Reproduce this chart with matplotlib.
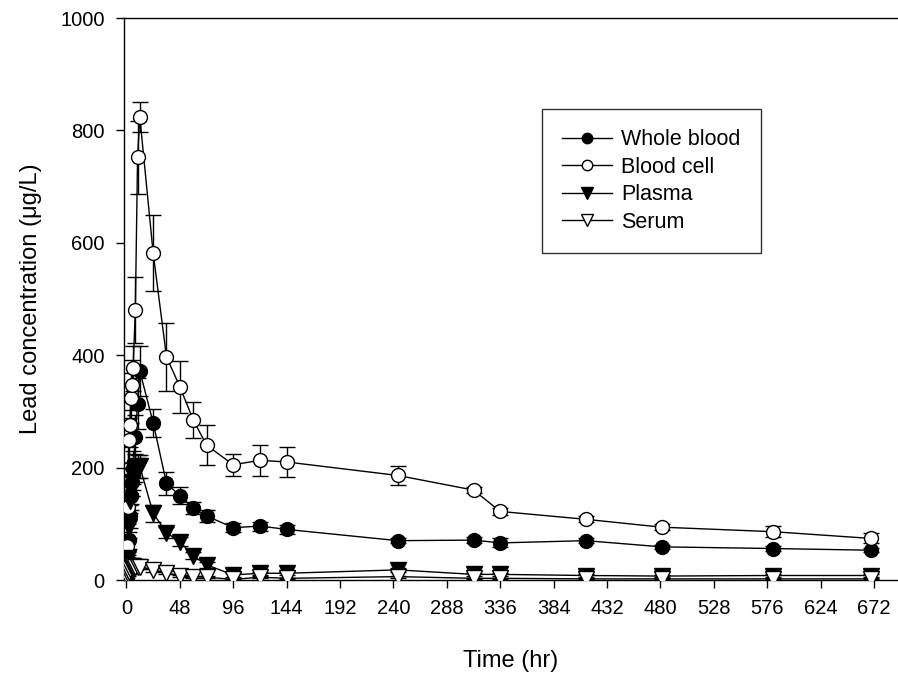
import matplotlib
matplotlib.use("Agg")
import matplotlib.pyplot as plt

plt.rcParams['font.family'] = ['Liberation Sans', 'DejaVu Sans']

# sampling times (hr)
time_hr = [0, 0.5, 1, 2, 3, 4, 5, 6, 8, 10, 12, 24, 36, 48, 60, 72,
           96, 120, 144, 244, 312, 336, 413, 481, 581, 669]

# lead concentration (ug/L), mean and SD
whole_blood = [5, 15, 35, 71, 113, 150, 175, 200, 254, 314, 372, 280, 172, 150, 128, 114,
               93, 96, 90, 70, 71, 66, 70, 59, 56, 53]
whole_blood_sd = [3, 5, 10, 15, 20, 25, 25, 30, 40, 45, 45, 25, 20, 15, 10, 10,
                  8, 8, 8, 5, 6, 8, 5, 4, 4, 4]

blood_cell = [10, 60, 130, 249, 276, 324, 347, 377, 481, 752, 824, 582, 397, 344, 285, 240,
              205, 213, 210, 186, 160, 122, 108, 94, 86, 74]
blood_cell_sd = [5, 15, 30, 40, 40, 45, 45, 40, 59, 65, 26, 68, 60, 46, 32, 36,
                 20, 28, 27, 17, 6, 6, 5, 5, 10, 9]

plasma = [2, 15, 40, 95, 140, 160, 175, 185, 199, 202, 202, 119, 84, 68, 43, 27,
          9, 12, 12, 18, 10, 10, 8, 7, 8, 8]
plasma_sd = [1, 5, 10, 20, 20, 25, 25, 25, 25, 20, 20, 15, 10, 8, 6, 5,
             3, 3, 3, 3, 3, 3, 2, 2, 2, 2]

serum = [1, 5, 10, 15, 20, 25, 25, 25, 24, 24, 24, 18, 13, 7, 6, 5,
         1, 5, 3, 6, 3, 3, 2, 2, 2, 2]
serum_sd = [1, 2, 3, 4, 5, 5, 5, 5, 5, 5, 5, 4, 3, 2, 2, 2,
            1, 2, 1, 2, 1, 1, 1, 1, 1, 1]

x_ticks = list(range(0, 673, 48))
y_ticks = [0, 200, 400, 600, 800, 1000]

W, H = 898, 677
fig = plt.figure(figsize=(W / 100, H / 100), dpi=100)
ax = fig.add_axes([124 / W, (H - 580) / H, (897 - 124) / W, (580 - 18) / H])

series = [
    ("Whole blood", whole_blood, whole_blood_sd, "o", "black"),
    ("Blood cell", blood_cell, blood_cell_sd, "o", "white"),
    ("Plasma", plasma, plasma_sd, "v", "black"),
    ("Serum", serum, serum_sd, "v", "white"),
]

handles = []
for name, vals, sd, mk, fc in series:
    size = 10 if mk == "o" else 11.5
    ax.errorbar(time_hr, vals, yerr=sd, fmt="none", ecolor="black",
                elinewidth=1.0, capsize=6, capthick=1.0, zorder=2)
    ax.plot(time_hr, vals, color="black", lw=1.0, zorder=3)
    ax.plot(time_hr, vals, ls="none", marker=mk, ms=size, mfc=fc,
            mec="black", mew=1.0, zorder=4)
    h, = ax.plot([], [], color="black", lw=1.0, marker=mk,
                 ms=7.5 if mk == "o" else 8.5,
                 mfc=fc, mec="black", mew=1.0, label=name)
    handles.append(h)

ax.set_xlim(-2.2, 692.7)
ax.set_ylim(0, 1000)
ax.set_xticks(x_ticks)
ax.set_yticks(y_ticks)
ax.tick_params(direction="out", length=6, width=1, labelsize=14.5, pad=8)
ax.spines["right"].set_visible(False)
for s in ["left", "bottom", "top"]:
    ax.spines[s].set_linewidth(1.0)

ax.set_xlabel("Time (hr)", fontsize=17, labelpad=23)
ax.set_ylabel("Lead concentration (\u03bcg/L)", fontsize=17, labelpad=13)

leg = ax.legend(handles=handles, loc="upper left",
                bbox_to_anchor=(541.7 / W, 1 - 109 / H),
                bbox_transform=fig.transFigure, fontsize=15.5,
                frameon=True, fancybox=False, edgecolor="black",
                handlelength=2.3, handletextpad=0.45, labelspacing=0.3,
                borderpad=0.95, borderaxespad=0)
leg.get_frame().set_linewidth(1.0)

fig.savefig("out.png", dpi=100)
